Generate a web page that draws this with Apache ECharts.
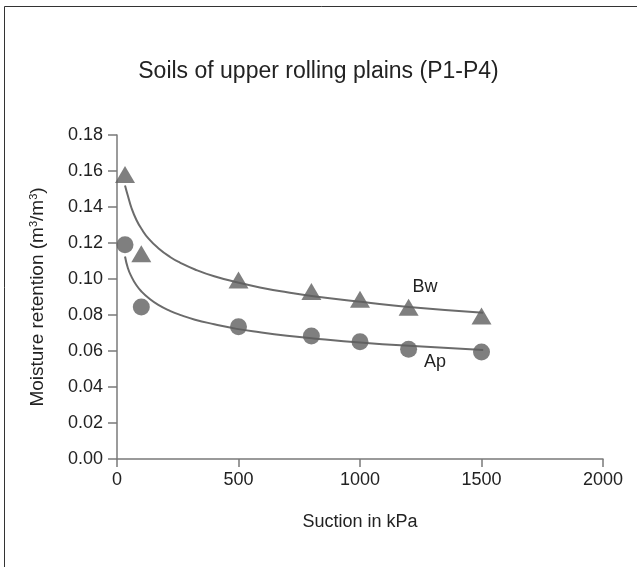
<!DOCTYPE html>
<html>
<head>
<meta charset="utf-8">
<script src="https://cdn.jsdelivr.net/npm/echarts@6/dist/echarts.min.js"></script>
<style>
html,body{margin:0;padding:0;background:#fff;}
#chart{width:637px;height:567px;}
</style>
</head>
<body>
<div id="chart"></div>
<script>
// Measured points
var suction = [33, 100, 500, 800, 1000, 1200, 1500];
var bwValues = [0.158, 0.114, 0.0995, 0.093, 0.0888, 0.0843, 0.0795];
var apValues = [0.119, 0.0845, 0.0735, 0.0683, 0.0652, 0.061, 0.0594];

// Fitted curves
var curveX = [33, 45, 60, 80, 101, 130, 170, 220, 259, 321, 400, 493, 588, 700, 808, 1013, 1200, 1507];
var bwCurve = [0.152, 0.1461, 0.1393, 0.1328, 0.1278, 0.1224, 0.1171, 0.1121, 0.1091, 0.1053, 0.1015, 0.0982, 0.0953, 0.0926, 0.0904, 0.0872, 0.0845, 0.0813];
var apCurve = [0.1125, 0.106, 0.1012, 0.0965, 0.093, 0.0894, 0.0856, 0.0822, 0.0801, 0.0774, 0.0749, 0.0723, 0.0704, 0.0685, 0.067, 0.0646, 0.0629, 0.0606];

// Curve labels
var labelNames = ['Bw', 'Ap'];
var labelX = [1267, 1309];
var labelY = [0.0956, 0.0539];

var yTicks = [0, 0.02, 0.04, 0.06, 0.08, 0.10, 0.12, 0.14, 0.16, 0.18];
var xTicks = [0, 500, 1000, 1500, 2000];

function pairs(xs, ys) { return xs.map(function (x, i) { return [x, ys[i]]; }); }

var chart = echarts.init(document.getElementById('chart'));
var font = 'Liberation Sans, Arial, sans-serif';
var markerColor = '#5f5f5f';
var lineColor = '#6b6b6b';
var axisColor = '#7a7a7a';
chart.setOption({
  animation: false,
  backgroundColor: '#fff',
  title: {
    text: 'Soils of upper rolling plains (P1-P4)',
    left: 'center',
    top: 55,
    textStyle: { fontFamily: font, fontSize: 23, fontWeight: 'normal', color: '#222' }
  },
  grid: { left: 117, right: 34, top: 135, bottom: 108 },
  xAxis: {
    type: 'value',
    min: xTicks[0], max: xTicks[xTicks.length - 1], interval: 500,
    name: 'Suction in kPa',
    nameLocation: 'middle',
    nameGap: 54,
    nameTextStyle: { fontFamily: font, fontSize: 18, color: '#222' },
    axisLine: { show: true, lineStyle: { color: axisColor, width: 1.5 } },
    axisTick: { show: true, inside: false, length: 8, lineStyle: { color: axisColor, width: 1.5 } },
    axisLabel: { fontFamily: font, fontSize: 18, color: '#222', margin: 12,
      formatter: function (v) { return String(v); } },
    splitLine: { show: false }
  },
  yAxis: {
    type: 'value',
    min: yTicks[0], max: yTicks[yTicks.length - 1], interval: 0.02,
    name: 'Moisture retention (m{s|3}/m{s|3})',
    nameLocation: 'middle',
    nameGap: 70,
    nameTextStyle: { fontFamily: font, fontSize: 19, color: '#222',
      rich: { s: { fontFamily: font, fontSize: 11, color: '#222', verticalAlign: 'top', padding: [0, 0, 8, 0] } } },
    axisLine: { show: true, lineStyle: { color: axisColor, width: 1.5 } },
    axisTick: { show: true, inside: false, length: 9, lineStyle: { color: axisColor, width: 1.5 } },
    axisLabel: { fontFamily: font, fontSize: 18, color: '#222', margin: 14,
      formatter: function (v) { return v.toFixed(2); } },
    splitLine: { show: false }
  },
  series: [
    {
      name: 'Bw fit', type: 'line', smooth: 0.5, showSymbol: false,
      data: pairs(curveX, bwCurve),
      lineStyle: { color: lineColor, width: 2 }, z: 2
    },
    {
      name: 'Ap fit', type: 'line', smooth: 0.5, showSymbol: false,
      data: pairs(curveX, apCurve),
      lineStyle: { color: lineColor, width: 2 }, z: 2
    },
    {
      name: 'Bw', type: 'scatter', symbol: 'triangle', symbolSize: [20, 17],
      data: pairs(suction, bwValues),
      itemStyle: { color: markerColor }, z: 3
    },
    {
      name: 'Ap', type: 'scatter', symbol: 'circle', symbolSize: 17,
      data: pairs(suction, apValues),
      itemStyle: { color: markerColor }, z: 3
    }
  ]
});

// Border and curve labels placed through the chart's own scales
var graphics = [{
  type: 'rect',
  shape: { x: 4.5, y: 6.5, width: 700, height: 700 },
  style: { fill: 'none', stroke: '#333', lineWidth: 1 },
  silent: true
}];
labelNames.forEach(function (n, i) {
  var p = chart.convertToPixel({ gridIndex: 0 }, [labelX[i], labelY[i]]);
  graphics.push({
    type: 'text', x: p[0], y: p[1], silent: true, z: 10,
    style: { text: n, fill: '#222', font: '18px ' + font, textAlign: 'center', textVerticalAlign: 'middle' }
  });
});
chart.setOption({ graphic: graphics });
</script>
</body>
</html>
